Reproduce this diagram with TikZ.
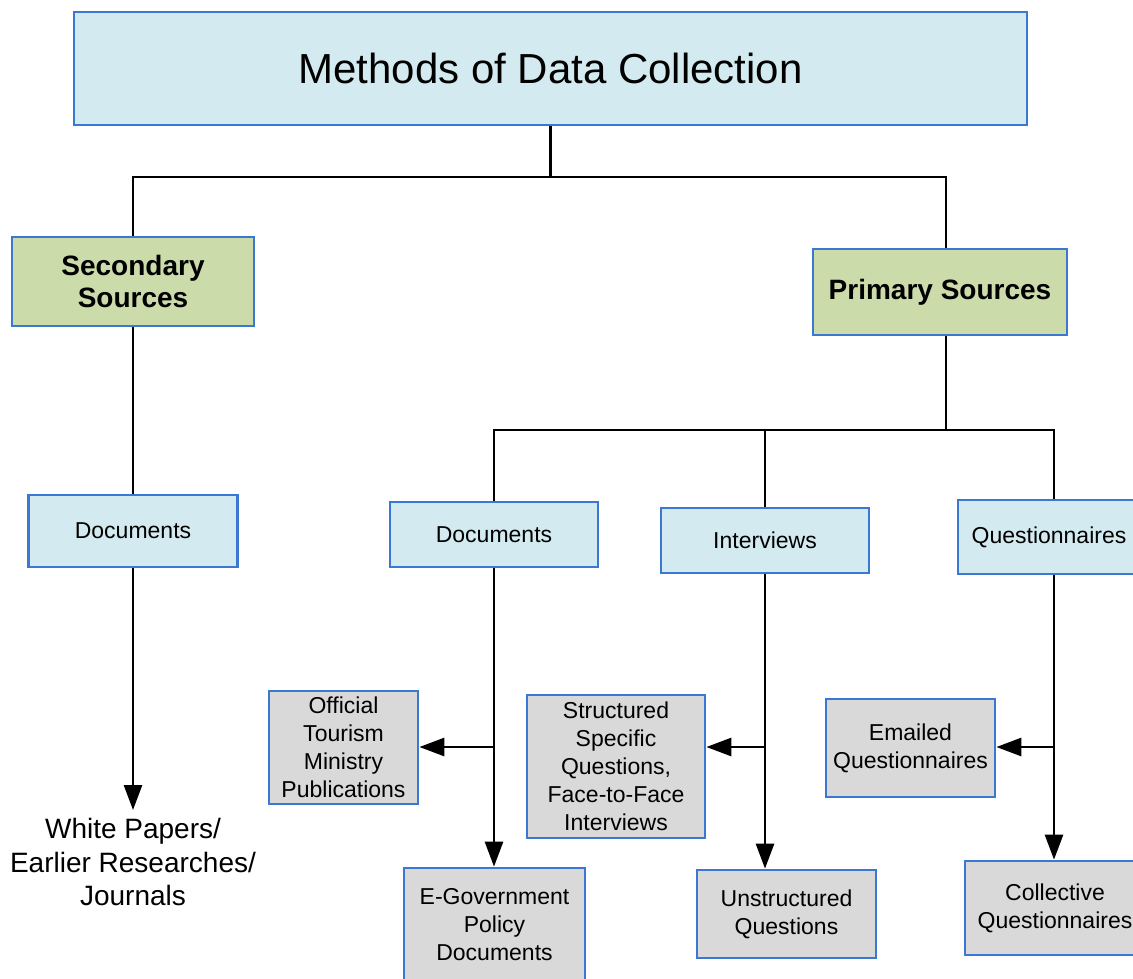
\documentclass[tikz,border=0pt]{standalone}
\usepackage{fontspec}
\setmainfont{Liberation Sans}
\usetikzlibrary{arrows.meta}
\definecolor{cyanfill}{HTML}{D3EBF0}
\definecolor{greenfill}{HTML}{CCDBAA}
\definecolor{grayfill}{HTML}{D9D9D9}
\definecolor{boxline}{HTML}{3A78D2}
\tikzset{
  box/.style={draw=boxline, line width=2.7pt, inner sep=0pt, align=center, font=\fontsize{23}{28}\selectfont},
  bluebox/.style={box, fill=cyanfill},
  greenbox/.style={box, fill=greenfill, font=\bfseries\fontsize{28}{32}\selectfont},
  graybox/.style={box, fill=grayfill},
  conn/.style={line width=2.7pt, black},
  arr/.style={conn, -{Triangle[length=25pt,width=18pt]}},
}
\begin{document}
\begin{tikzpicture}[x=1pt,y=-1pt]
\useasboundingbox (0,0) rectangle (1133,978);
\clip (0,0) rectangle (1133,978);
\fill[white] (0,0) rectangle (1133,978);
% boxes
\node[bluebox, minimum width=953pt, minimum height=113pt, font=\fontsize{42}{48}\selectfont] (title) at (550.5,68.5) {Methods of Data Collection};
\node[greenbox, minimum width=242pt, minimum height=89pt] (sec) at (133,281.5) {Secondary\\Sources};
\node[greenbox, minimum width=254pt, minimum height=86pt] (prim) at (940,292) {Primary Sources};
\node[bluebox, minimum width=209pt, minimum height=72pt] (docs) at (133,531) {Documents};
\node[bluebox, minimum width=208pt, minimum height=65pt] (docp) at (494,534.5) {Documents};
\node[bluebox, minimum width=208pt, minimum height=65pt] (interv) at (765,540.5) {Interviews};
\node[bluebox, minimum width=182pt, minimum height=74pt] (quest) at (1049,537) {Questionnaires};
\node[graybox, minimum width=149pt, minimum height=113pt] (offic) at (343.5,747.5) {Official\\Tourism\\Ministry\\Publications};
\node[graybox, minimum width=181pt, minimum height=114pt] (egov) at (494.5,925) {E-Government\\Policy\\Documents};
\node[graybox, minimum width=178pt, minimum height=143pt] (struct) at (616,766.5) {Structured\\Specific\\Questions,\\Face-to-Face\\Interviews};
\node[graybox, minimum width=179pt, minimum height=88pt] (unstr) at (786.5,914) {Unstructured\\Questions};
\node[graybox, minimum width=169pt, minimum height=98pt] (email) at (910.5,748) {Emailed\\Questionnaires};
\node[graybox, minimum width=180pt, minimum height=94pt] (coll) at (1055,908) {Collective\\Questionnaires};
\node[inner sep=0pt, align=center, font=\fontsize{28}{33.5}\selectfont] (white) at (133,862) {White Papers/\\Earlier Researches/\\Journals};
% junctions
\coordinate (j0) at (550.5,177);
\coordinate (pin) at ([xshift=6pt]prim.north);
\coordinate (pout) at ([xshift=6pt]prim.south);
\coordinate (j1) at (946,430);
\coordinate (qin) at ([xshift=5pt]quest.north);
\coordinate (qout) at ([xshift=5pt]quest.south);
\coordinate (brow) at (0,747);
% top tree
\draw[conn] (title.south) -- (j0);
\draw[conn] (sec.north) -- (sec.north |- j0) -- (pin |- j0) -- (pin);
\draw[conn] (sec.south) -- (docs.north);
\draw[arr] (docs.south) -- ([yshift=8pt]white.north);
% primary tree
\draw[conn] (pout) -- (j1);
\draw[conn] (docp.north) -- (docp.north |- j1) -- (qin |- j1) -- (qin);
\draw[conn] (interv.north) -- (interv.north |- j1);
% documents branch
\draw[arr] (docp.south) -- (docp.south |- egov.north);
\draw[arr] (docp.south |- brow) -- (offic.east |- brow);
% interviews branch
\draw[arr] (interv.south) -- (interv.south |- unstr.north);
\draw[arr] (interv.south |- brow) -- (struct.east |- brow);
% questionnaires branch
\draw[arr] (qout) -- (qout |- coll.north);
\draw[arr] (qout |- brow) -- (email.east |- brow);
\end{tikzpicture}
\end{document}
